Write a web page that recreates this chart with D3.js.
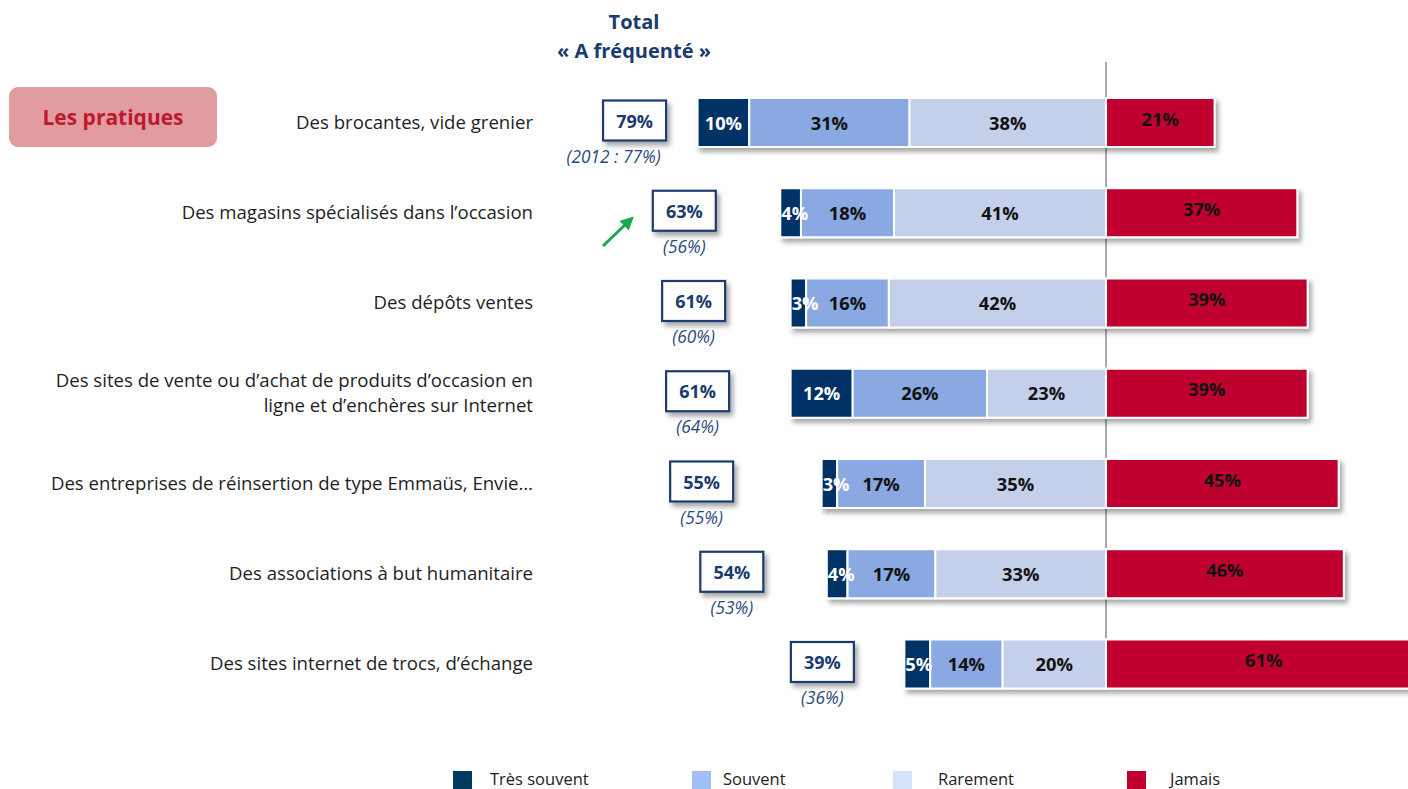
<!DOCTYPE html>
<html>
<head>
<meta charset="utf-8">
<script src="https://cdn.jsdelivr.net/npm/d3@7"></script>
<style>
  body { margin: 0; background: #fff; }
  svg { display: block; font-family: "Open Sans", "Noto Sans", sans-serif; }
</style>
</head>
<body>
<div id="chart"></div>
<script>
// data
var categories = [
  "Des brocantes, vide grenier",
  "Des magasins spécialisés dans l’occasion",
  "Des dépôts ventes",
  "Des sites de vente ou d’achat de produits d’occasion en|ligne et d’enchères sur Internet",
  "Des entreprises de réinsertion de type Emmaüs, Envie…",
  "Des associations à but humanitaire",
  "Des sites internet de trocs, d’échange"
];
var tresSouvent = [10, 4, 3, 12, 3, 4, 5];
var souvent     = [31, 18, 16, 26, 17, 17, 14];
var rarement    = [38, 41, 42, 23, 35, 33, 20];
var jamais      = [21, 37, 39, 39, 45, 46, 61];
var totals      = [79, 63, 61, 61, 55, 54, 39];
var previous    = ["(2012 : 77%)", "(56%)", "(60%)", "(64%)", "(55%)", "(53%)", "(36%)"];
var seriesNames = ["Très souvent", "Souvent", "Rarement", "Jamais"];

// layout tweaks for the "total" boxes (they don't sit at a fixed gap)
var boxNudge = [30, -3, -4, 0, -27, -2, 11];

var width = 1408, height = 789;
var colors = { "Très souvent": "#003366", "Souvent": "#8aa8e2", "Rarement": "#c4d0ea", "Jamais": "#c0002e" };
var legendColors = { "Très souvent": "#003a5c", "Souvent": "#a0bff5", "Rarement": "#d6e1fa", "Jamais": "#c0002e" };
var navy = "#1a3b6e";

var svg = d3.select("#chart").append("svg")
  .attr("width", width)
  .attr("height", height);

var defs = svg.append("defs");
var shadow = defs.append("filter").attr("id", "shadow")
  .attr("x", "-10%").attr("y", "-20%").attr("width", "130%").attr("height", "160%");
shadow.append("feDropShadow")
  .attr("dx", 3).attr("dy", 4).attr("stdDeviation", 2.5)
  .attr("flood-color", "#000").attr("flood-opacity", 0.35);

var x = d3.scaleLinear().domain([-100, 100]).range([1106 - 517, 1106 + 517]);
var y = d3.scalePoint().domain(d3.range(categories.length)).range([122.5, 664]);
var barH = 49;

// build stacked rows
var rows = categories.map(function (c, i) {
  var r = rarement[i], s = souvent[i], t = tresSouvent[i];
  return {
    i: i,
    segs: [
      { key: "Très souvent", v: t, x0: -(r + s + t), x1: -(r + s) },
      { key: "Souvent", v: s, x0: -(r + s), x1: -r },
      { key: "Rarement", v: rarement[i], x0: -r, x1: 0 },
      { key: "Jamais", v: jamais[i], x0: 0, x1: jamais[i] }
    ]
  };
});

// title
svg.append("text").attr("x", 634).attr("y", 29)
  .attr("text-anchor", "middle").attr("font-weight", "bold").attr("font-size", 20)
  .attr("fill", navy).text("Total");
svg.append("text").attr("x", 634).attr("y", 58)
  .attr("text-anchor", "middle").attr("font-weight", "bold").attr("font-size", 20)
  .attr("fill", navy).text("« A fréquenté »");

// "Les pratiques" badge
svg.append("rect").attr("x", 9).attr("y", 87).attr("width", 208).attr("height", 60)
  .attr("rx", 9).attr("fill", "#e09ca1");
svg.append("text").attr("x", 113).attr("y", 125)
  .attr("text-anchor", "middle").attr("font-weight", "bold").attr("font-size", 21)
  .attr("fill", "#c0182e").text("Les pratiques");

// category labels
var labels = svg.append("g").selectAll("text")
  .data(categories).enter().append("text")
  .attr("text-anchor", "end")
  .attr("font-size", 18.6)
  .attr("fill", "#1e1e1e");
labels.each(function (d, i) {
  var lines = d.split("|");
  var t = d3.select(this);
  lines.forEach(function (line, k) {
    t.append("tspan")
      .attr("x", 533)
      .attr("y", y(i) + 6 + (k - (lines.length - 1) / 2) * 25)
      .text(line);
  });
});

// centre line (stops at the last bar)
svg.append("line")
  .attr("x1", x(0)).attr("x2", x(0))
  .attr("y1", 62).attr("y2", y(categories.length - 1) + barH / 2)
  .attr("stroke", "#8c8c8c").attr("stroke-width", 1.5);

// bars
var rowG = svg.append("g").selectAll("g")
  .data(rows).enter().append("g")
  .attr("transform", function (d) { return "translate(0," + (y(d.i) - barH / 2) + ")"; });

rowG.append("g").attr("filter", "url(#shadow)")
  .selectAll("rect")
  .data(function (d) { return d.segs; })
  .enter().append("rect")
  .attr("x", function (d) { return x(d.x0); })
  .attr("width", function (d) { return x(d.x1) - x(d.x0); })
  .attr("height", barH)
  .attr("fill", function (d) { return colors[d.key]; })
  .attr("stroke", "#fff")
  .attr("stroke-width", 2);

rowG.selectAll("text.val")
  .data(function (d) { return d.segs; })
  .enter().append("text")
  .attr("class", "val")
  .attr("x", function (d) {
    var w = x(d.x1) - x(d.x0);
    // tiny segments: label starts at the segment edge and spills right
    return w < 30 ? x(d.x0) + 1 : (x(d.x0) + x(d.x1)) / 2;
  })
  .attr("y", function (d) { return d.key === "Jamais" ? barH / 2 + 3 : barH / 2 + 7; })
  .attr("text-anchor", function (d) { return x(d.x1) - x(d.x0) < 30 ? "start" : "middle"; })
  .attr("font-weight", "bold")
  .attr("font-size", 18.3)
  .attr("fill", function (d) { return d.key === "Très souvent" ? "#fff" : "#111"; })
  .text(function (d) { return d.v + "%"; });

// total boxes
var boxW = 63, boxH = 40;
var boxes = svg.append("g").selectAll("g")
  .data(totals).enter().append("g")
  .attr("transform", function (d, i) {
    return "translate(" + (x(-d) - 93 + boxNudge[i]) + "," + (y(i) - 2) + ")";
  });
boxes.append("rect")
  .attr("x", -boxW / 2).attr("y", -boxH / 2)
  .attr("width", boxW).attr("height", boxH)
  .attr("fill", "#fff").attr("stroke", navy).attr("stroke-width", 2.2)
  .attr("filter", "url(#shadow)");
boxes.append("text")
  .attr("text-anchor", "middle").attr("y", 7)
  .attr("font-weight", "bold").attr("font-size", 18)
  .attr("fill", navy)
  .text(function (d) { return d + "%"; });
boxes.append("text")
  .attr("text-anchor", "middle")
  .attr("x", function (d, i) { return i === 0 ? -21 : 0; })
  .attr("y", 42)
  .attr("font-style", "italic").attr("font-size", 17.3)
  .attr("fill", "#2a4a7a")
  .text(function (d, i) { return previous[i]; });

// green arrow
defs.append("marker").attr("id", "arrow")
  .attr("viewBox", "0 0 10 10").attr("refX", 4).attr("refY", 5)
  .attr("markerWidth", 4.5).attr("markerHeight", 4.5).attr("orient", "auto")
  .append("path").attr("d", "M0,0 L10,5 L0,10 z").attr("fill", "#1aa84c");
svg.append("line")
  .attr("x1", 603).attr("y1", 246).attr("x2", 628).attr("y2", 222)
  .attr("stroke", "#1aa84c").attr("stroke-width", 3)
  .attr("marker-end", "url(#arrow)");

// legend
var legendX = [453, 692, 893, 1127];
var legendGap = [37, 31, 45, 43];
var leg = svg.append("g").selectAll("g")
  .data(seriesNames).enter().append("g")
  .attr("transform", function (d, i) { return "translate(" + legendX[i] + ",771)"; });
leg.append("rect").attr("width", 19).attr("height", 19)
  .attr("fill", function (d) { return legendColors[d]; });
leg.append("text").attr("x", function (d, i) { return legendGap[i]; })
  .attr("y", 14)
  .attr("font-size", 16.5).attr("fill", "#222")
  .text(function (d) { return d; });
</script>
</body>
</html>
